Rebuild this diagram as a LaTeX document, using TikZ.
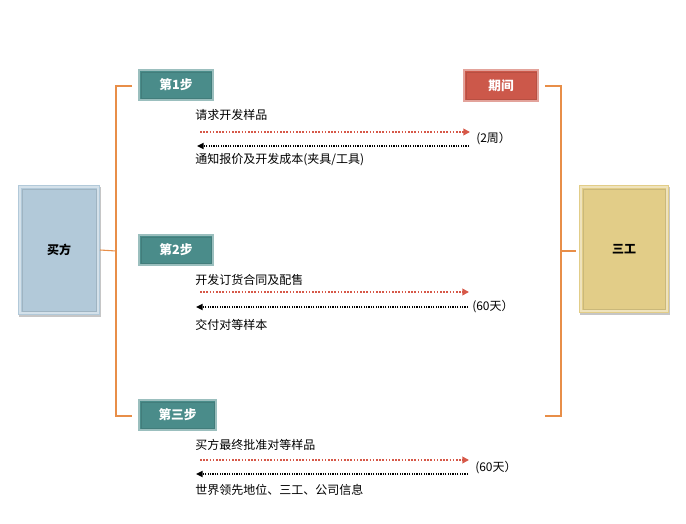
\documentclass[tikz,border=0pt]{standalone}
\usepackage{fontspec}
\setmainfont{Noto Sans CJK SC}
\usepackage{tikz}
\usetikzlibrary{arrows.meta,shadows}
\definecolor{tealbox}{RGB}{74,140,138}
\definecolor{redbox}{RGB}{204,88,74}
\definecolor{bluebox}{RGB}{178,201,217}
\definecolor{tanbox}{RGB}{226,205,136}
\definecolor{linkor}{RGB}{232,142,72}
\definecolor{reqred}{RGB}{214,88,72}
\tikzstyle{bevel} = [path picture={
	\draw[white, opacity=.45, line width=1.5pt]
		([shift={(1.5pt,-1.5pt)}]path picture bounding box.north west) rectangle
		([shift={(-1.5pt,1.5pt)}]path picture bounding box.south east);
	\draw[black, opacity=.1, line width=.6pt]
		([shift={(3pt,-3pt)}]path picture bounding box.north west) rectangle
		([shift={(-3pt,3pt)}]path picture bounding box.south east);}]
\tikzstyle{stepbox} = [rectangle, fill=tealbox, draw=white, line width=2pt, bevel,
	drop shadow={shadow xshift=.8pt, shadow yshift=-1pt, opacity=.35},
	minimum width=58.5pt, minimum height=25.5pt, inner sep=0pt,
	text=white, font=\bfseries\fontsize{9.5}{11}\selectfont]
\tikzstyle{party} = [rectangle, bevel, line width=0pt,
	drop shadow={shadow xshift=1pt, shadow yshift=-1.5pt, opacity=.45},
	minimum width=61.5pt, minimum height=97.5pt, inner sep=0pt,
	font=\bfseries\fontsize{9}{11}\selectfont]
\tikzstyle{note} = [anchor=west, inner sep=0pt, font=\fontsize{9}{11}\selectfont]
\tikzstyle{link} = [draw=linkor, line width=.8pt]
\tikzstyle{ask} = [reqred, line width=1.3pt, dash pattern=on 1.2pt off 1.2pt,
	-{Triangle[length=5pt, width=5pt]}]
\tikzstyle{reply} = [black, line width=1.2pt, dash pattern=on .9pt off .9pt,
	-{Triangle[length=5pt, width=4.5pt]}]

\begin{document}
\begin{tikzpicture}[x=0.75pt, y=-0.75pt]
	\useasboundingbox (0,0) rectangle (686,524);

	\node[party, fill=bluebox] (buyer) at (59,250) {买方};
	\node[party, fill=tanbox, minimum width=67.5pt, minimum height=96pt] (sangong) at (624,249) {三工};

	\node[stepbox] (step1) at (176,85) {第1步};
	\node[stepbox] (step2) at (176,250) {第2步};
	\node[stepbox, minimum width=60.75pt] (step3) at (177.5,415) {第三步};
	\node[stepbox, fill=redbox, minimum height=26.25pt] (period) at (501,85.5) {期间};

	\coordinate (lbusT) at (116,86);
	\coordinate (lbusM) at (116,251);
	\coordinate (lbusB) at (116,416);
	\coordinate (rbusT) at (561,86);
	\coordinate (rbusM) at (561,251);
	\coordinate (rbusB) at (561,416);
	\coordinate (rbusE) at (545,416);

	\draw[link] (132,86) -- (lbusT) -- (lbusB) -- (132,416);
	\draw[link] (buyer.east) -- (lbusM);
	\draw[link] (545,86) -- (rbusT) -- (rbusB) -- (rbusE);
	\draw[link] (rbusM) -- (576,251);

	% step 1
	\node[note] (req1) at (195,115) {请求开发样品};
	\coordinate (a1s) at (200,132);
	\coordinate (a1e) at (470,132);
	\draw[ask] (a1s) -- (a1e);
	\coordinate (b1s) at (469,146);
	\coordinate (b1e) at (197,146);
	\draw[reply] (b1s) -- (b1e);
	\node[note] (time1) at (476,139) {(2周）};
	\node[note] (ans1) at (195,160) {通知报价及开发成本(夹具/工具)};

	% step 2
	\node[note] (req2) at (195,280) {开发订货合同及配售};
	\coordinate (a2s) at (200,292);
	\coordinate (a2e) at (469,292);
	\draw[ask] (a2s) -- (a2e);
	\coordinate (b2s) at (468,307);
	\coordinate (b2e) at (196,307);
	\draw[reply] (b2s) -- (b2e);
	\node[note] (time2) at (472,307) {(60天）};
	\node[note] (ans2) at (195,325) {交付对等样本};

	% step 3
	\node[note] (req3) at (195,445) {买方最终批准对等样品};
	\coordinate (a3s) at (200,460);
	\coordinate (a3e) at (469,460);
	\draw[ask] (a3s) -- (a3e);
	\coordinate (b3s) at (468,474);
	\coordinate (b3e) at (196,474);
	\draw[reply] (b3s) -- (b3e);
	\node[note] (time3) at (475,468) {(60天）};
	\node[note] (ans3) at (195,490) {世界领先地位、三工、公司信息};
\end{tikzpicture}
\end{document}
